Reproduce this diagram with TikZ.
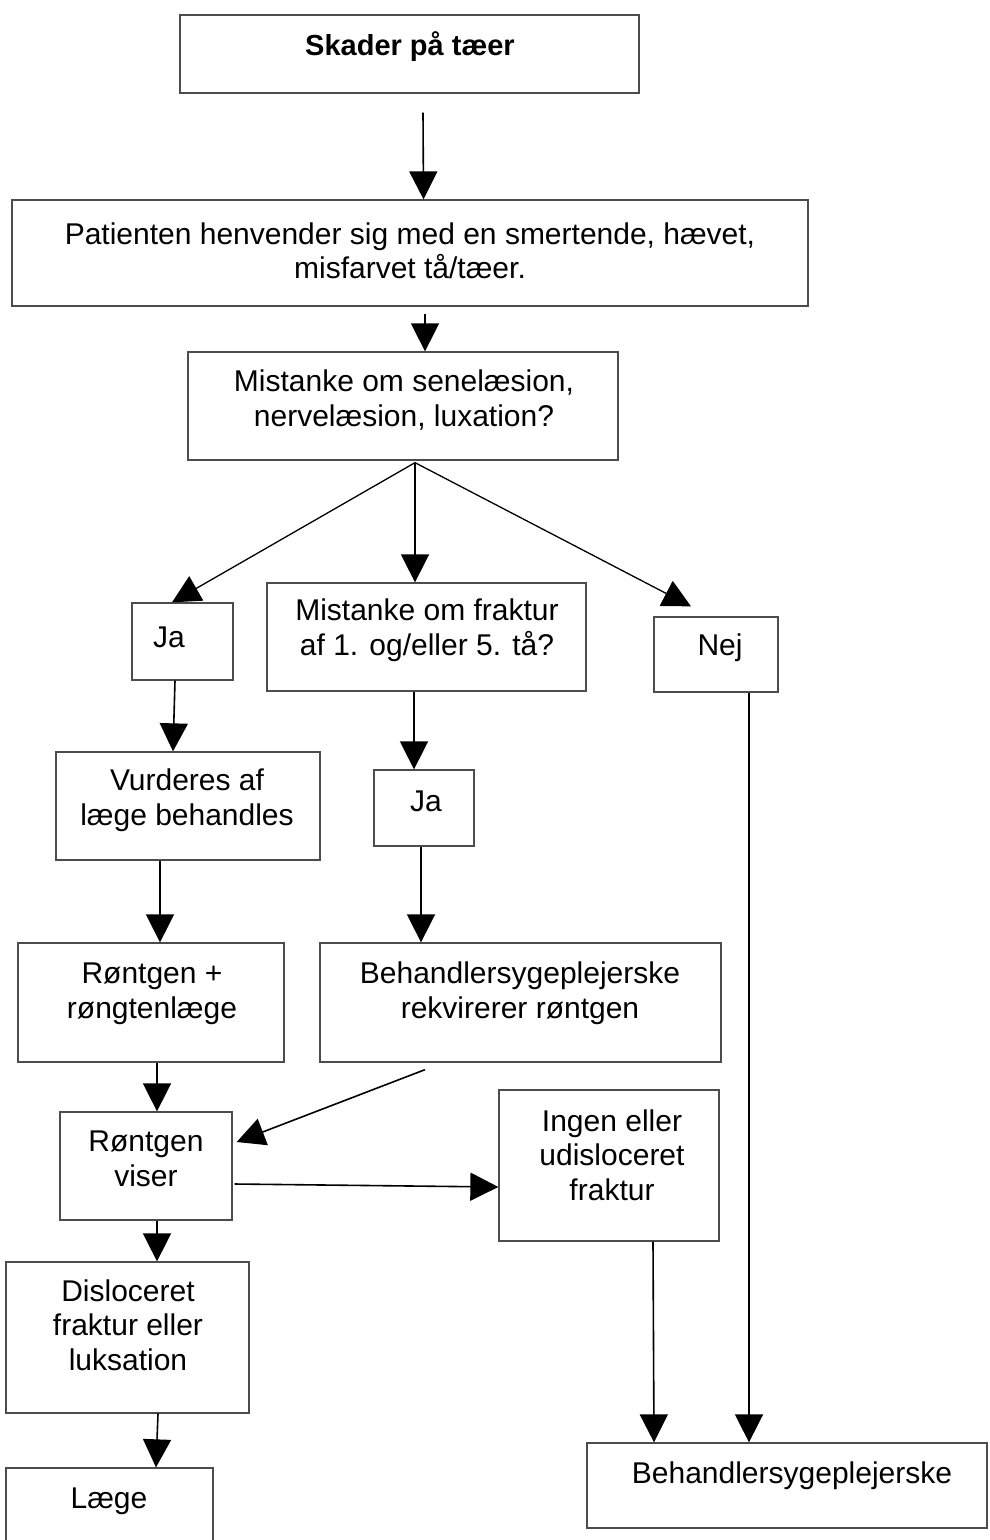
\documentclass[tikz,border=0pt]{standalone}
\usepackage{fontspec}
\setmainfont{Liberation Sans}
\usetikzlibrary{arrows.meta,calc}
\begin{document}
\begin{tikzpicture}[x=1pt,y=-1pt,
  box/.style={draw=black!70, line width=1.3pt, rectangle, inner sep=0pt},
  txt/.style={align=center, inner sep=0pt, font=\fontsize{30}{34.5}\selectfont},
  arr/.style={line width=1.6pt, -{Triangle[length=28pt,width=28pt]}},
]
\clip (0,0) rectangle (989,1540);
\fill[white] (0,0) rectangle (989,1540);

% boxes
\node[box, minimum width=459pt, minimum height=78pt]  (b1)    at (409.5,54)   {};
\node[box, minimum width=796pt, minimum height=106pt] (b2)    at (410,253)    {};
\node[box, minimum width=430pt, minimum height=108pt] (b3)    at (403,406)    {};
\node[box, minimum width=101pt, minimum height=77pt]  (ja1)   at (182.5,641.5){};
\node[box, minimum width=319pt, minimum height=108pt] (frak)  at (426.5,637)  {};
\node[box, minimum width=124pt, minimum height=75pt]  (nej)   at (716,654.5)  {};
\node[box, minimum width=264pt, minimum height=108pt] (vurd)  at (188,806)    {};
\node[box, minimum width=100pt, minimum height=76pt]  (ja2)   at (424,808)    {};
\node[box, minimum width=266pt, minimum height=119pt] (rtg)   at (151,1002.5) {};
\node[box, minimum width=401pt, minimum height=119pt] (rekv)  at (520.5,1002.5){};
\node[box, minimum width=172pt, minimum height=108pt] (viser) at (146,1166)   {};
\node[box, minimum width=220pt, minimum height=151pt] (ingen) at (609,1165.5) {};
\node[box, minimum width=243pt, minimum height=151pt] (disl)  at (127.5,1337.5){};
\node[box, minimum width=207pt, minimum height=92pt]  (laege) at (109.5,1514)  {};
\node[box, minimum width=400pt, minimum height=85pt]  (sygpl) at (787,1485.5)  {};

% texts
\node[txt, font=\fontsize{29}{34}\selectfont\bfseries] (t1) at (410,47) {Skader på tæer};
\node[txt] (t2)    at (410,251)  {Patienten henvender sig med en smertende, hævet,\\misfarvet tå/tæer.};
\node[txt] (t3)    at (404,400)  {Mistanke om senelæsion,\\nervelæsion, luxation?};
\node[txt] (tja1)  at (169,637)  {Ja};
\node[txt] (tfrak) at (427,630)  {Mistanke om fraktur\\af 1. og/eller 5. tå?};
\node[txt] (tnej)  at (720,648)  {Nej};
\node[txt] (tvurd) at (187,800)  {Vurderes af\\læge behandles};
\node[txt] (tja2)  at (426,801)  {Ja};
\node[txt] (trtg)  at (152,994)  {Røntgen +\\røngtenlæge};
\node[txt] (trekv) at (520,993)  {Behandlersygeplejerske\\rekvirerer røntgen};
\node[txt] (tviser) at (146,1159) {Røntgen\\viser};
\node[txt] (tingen) at (612,1155) {Ingen eller\\udisloceret\\fraktur};
\node[txt] (tdisl) at (128,1325) {Disloceret\\fraktur eller\\luksation};
\node[txt] (tlaege) at (109,1501) {Læge};
\node[txt] (tsygpl) at (792,1476) {Behandlersygeplejerske};

% connectors
\draw[arr] ([shift={(13.5,19)}]b1.south) -- ([xshift=13.5pt]b2.north);
\draw[arr] ([shift={(15,7)}]b2.south) -- ([xshift=22pt]b3.north);
\coordinate (fan) at ([shift={(12,2)}]b3.south);
\draw[arr, line width=1.3pt] (fan) -- ([xshift=-10.5pt]ja1.north);
\draw[arr] (fan) -- ([xshift=-11.5pt]frak.north);
\draw[arr, line width=1.3pt] (fan) -- ([shift={(-25,-10)}]nej.north);
\draw[arr] ([xshift=-7.5pt]ja1.south) -- ([xshift=-15pt]vurd.north);
\draw[arr] ([xshift=-12.5pt]frak.south) -- ([xshift=-10pt]ja2.north);
\draw[arr] ([xshift=33pt]nej.south) -- ([xshift=-38pt]sygpl.north);
\draw[arr] ([xshift=-28pt]vurd.south) -- ([xshift=9pt]rtg.north);
\draw[arr] ([xshift=-3pt]ja2.south) -- ([xshift=-99.5pt]rekv.north);
\draw[arr] ([xshift=6pt]rtg.south) -- ([xshift=11pt]viser.north);
\draw[arr] ([shift={(-95.5,7)}]rekv.south) -- ([shift={(4,-24)}]viser.east);
\draw[arr] ([shift={(2,18)}]viser.east) -- ([yshift=-21.5pt]ingen.west);
\draw[arr] ([xshift=11pt]viser.south) -- ([xshift=29.5pt]disl.north);
\draw[arr] ([xshift=44pt]ingen.south) -- ([xshift=-133pt]sygpl.north);
\draw[arr] ([xshift=30.5pt]disl.south) -- ([xshift=46.5pt]laege.north);
\end{tikzpicture}
\end{document}
